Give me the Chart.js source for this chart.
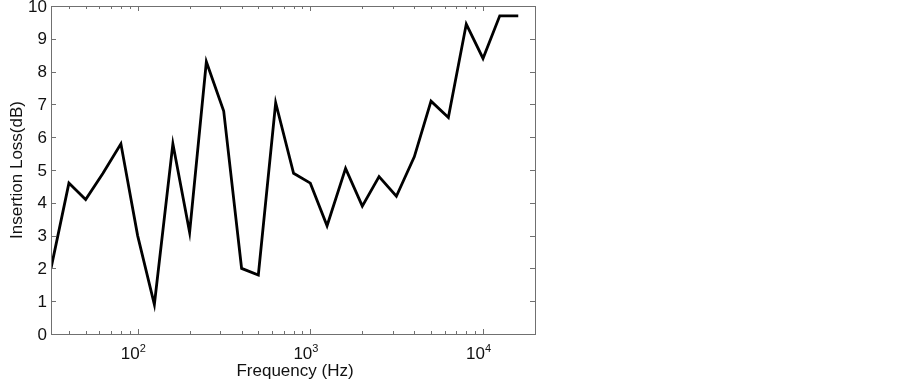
<!DOCTYPE html>
<html>
<head>
<meta charset="utf-8">
<script src="https://cdn.jsdelivr.net/npm/chart.js@4"></script>
<style>
  html, body { margin: 0; padding: 0; background: #fff; }
  #wrap { width: 903px; height: 381px; }
</style>
</head>
<body>
<div id="wrap"><canvas id="lossChart" width="903" height="381"></canvas></div>
<script>
// one-third octave band centre frequencies (Hz)
var freqs = [31.5, 40, 50, 63, 80, 100, 125, 160, 200, 250, 315, 400, 500, 630, 800,
             1000, 1250, 1600, 2000, 2500, 3150, 4000, 5000, 6300, 8000, 10000, 12500, 16000];
// insertion loss (dB)
var loss = [2.0, 4.6, 4.1, 4.9, 5.8, 3.0, 0.9, 5.8, 3.1, 8.3, 6.8, 2.0, 1.8, 7.05, 4.9,
            4.6, 3.3, 5.05, 3.9, 4.8, 4.2, 5.4, 7.1, 6.6, 9.45, 8.4, 9.7, 9.7];
var yTicks = [0, 1, 2, 3, 4, 5, 6, 7, 8, 9, 10];
var xDecades = [10, 100, 1000, 10000];
var xLabelExp = [2, 3, 4];

var FONT = '"Liberation Sans", Arial, sans-serif';

var axesBox = {
    id: 'axesBox',
    afterDraw: function(chart) {
        var ctx = chart.ctx, a = chart.chartArea;
        var xs = chart.scales.x, ys = chart.scales.y;
        ctx.save();
        ctx.strokeStyle = '#707070';
        ctx.lineWidth = 1;
        ctx.strokeRect(Math.round(a.left) + 0.5, Math.round(a.top) + 0.5,
                       Math.round(a.right - a.left), Math.round(a.bottom - a.top));

        // y ticks, inward on both sides
        ctx.beginPath();
        yTicks.forEach(function(v) {
            var py = Math.round(ys.getPixelForValue(v)) + 0.5;
            ctx.moveTo(a.left, py); ctx.lineTo(a.left + 5, py);
            ctx.moveTo(a.right, py); ctx.lineTo(a.right - 5, py);
        });
        // x ticks (log major + minor), inward top and bottom
        xDecades.forEach(function(d) {
            for (var m = 1; m <= 9; m++) {
                var f = m * d;
                if (f < xs.min || f > xs.max) continue;
                var px = Math.round(xs.getPixelForValue(f)) + 0.5;
                var len = m === 1 ? 5 : 3;
                ctx.moveTo(px, a.bottom); ctx.lineTo(px, a.bottom - len);
                ctx.moveTo(px, a.top); ctx.lineTo(px, a.top + len);
            }
        });
        ctx.stroke();

        // tick labels
        ctx.fillStyle = '#111';
        ctx.font = '17px ' + FONT;
        ctx.textAlign = 'right';
        ctx.textBaseline = 'middle';
        yTicks.forEach(function(v) {
            ctx.fillText(String(v), a.left - 4, ys.getPixelForValue(v) + 1);
        });
        xLabelExp.forEach(function(e) {
            var px = xs.getPixelForValue(Math.pow(10, e));
            ctx.font = '17px ' + FONT;
            ctx.textAlign = 'right';
            ctx.textBaseline = 'alphabetic';
            ctx.fillText('10', px + 2, a.bottom + 25);
            ctx.font = '11px ' + FONT;
            ctx.textAlign = 'left';
            ctx.fillText(String(e), px + 2, a.bottom + 18);
        });

        // axis titles
        ctx.font = '17px ' + FONT;
        ctx.textAlign = 'center';
        ctx.textBaseline = 'alphabetic';
        ctx.fillText('Frequency (Hz)', (a.left + a.right) / 2 + 2, a.bottom + 42);
        ctx.save();
        ctx.translate(22, (a.top + a.bottom) / 2);
        ctx.rotate(-Math.PI / 2);
        ctx.fillText('Insertion Loss(dB)', 0, 0);
        ctx.restore();
        ctx.restore();
    }
};

var points = freqs.map(function(f, i) { return { x: f, y: loss[i] }; });

var ctx = document.getElementById('lossChart').getContext('2d');
window.lossChart = new Chart(ctx, {
    type: 'line',
    data: {
        datasets: [{
            label: 'Insertion Loss',
            data: points,
            borderColor: '#000',
            borderWidth: 2.8,
            pointRadius: 0,
            tension: 0,
            fill: false
        }]
    },
    options: {
        responsive: false,
        animation: false,
        layout: { padding: { left: 51, top: 6, right: 368, bottom: 47 } },
        plugins: { legend: { display: false }, tooltip: { enabled: false } },
        scales: {
            x: {
                type: 'logarithmic',
                min: 31.5,
                max: 20000,
                ticks: { display: false },
                grid: { display: false },
                border: { display: false },
                afterFit: function(scale) { scale.height = 0; }
            },
            y: {
                min: 0,
                max: 10,
                ticks: { display: false },
                grid: { display: false },
                border: { display: false },
                afterFit: function(scale) { scale.width = 0; }
            }
        }
    },
    plugins: [axesBox]
});
</script>
</body>
</html>
